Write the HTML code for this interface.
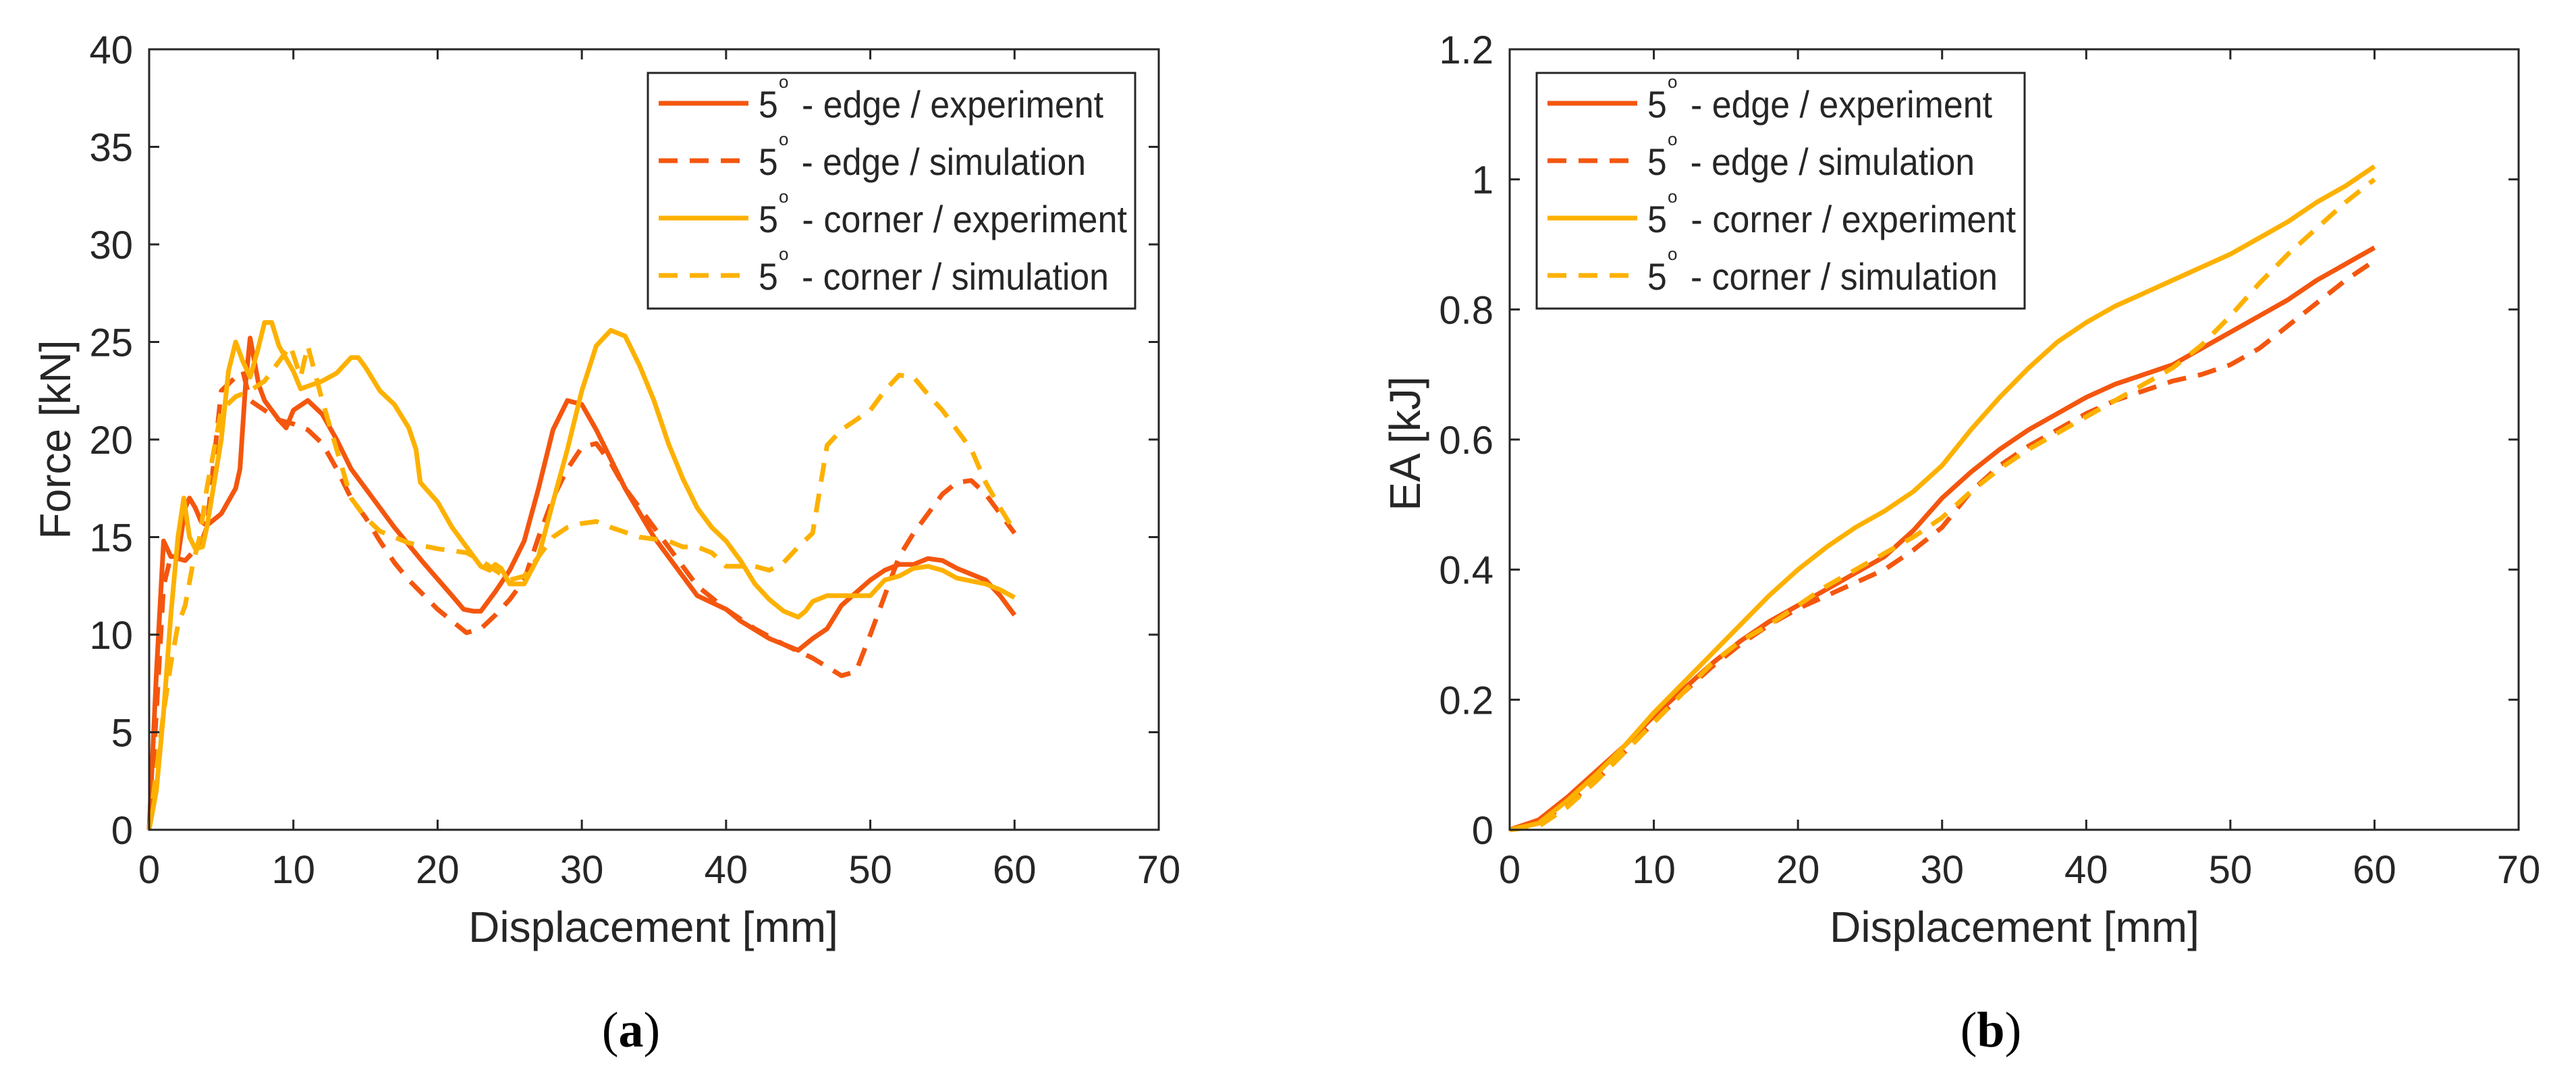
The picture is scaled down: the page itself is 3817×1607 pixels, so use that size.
<!DOCTYPE html>
<html><head><meta charset="utf-8"><style>
html,body{margin:0;padding:0;background:#fff;}
svg{display:block;font-family:"Liberation Sans",sans-serif;}
</style></head><body>
<svg id="chart" width="3817" height="1607" viewBox="0 0 3817 1607" xmlns="http://www.w3.org/2000/svg"></svg>
<script>
const NS="http://www.w3.org/2000/svg";
const xTicks=[0,10,20,30,40,50,60,70];
const forceTicks=[0,5,10,15,20,25,30,35,40];
const eaTicks=[0,0.2,0.4,0.6,0.8,1,1.2];
const eaTickLabels=["0","0.2","0.4","0.6","0.8","1","1.2"];
const seriesNames=["5° - edge / experiment","5° - edge / simulation","5° - corner / experiment","5° - corner / simulation"];
// Force panel (a)
const fEdgeExpX=[0,0.5,1,1.5,2,2.5,2.8,3.2,3.6,4,5,6,6.3,6.7,7,7.3,7.6,8,9,9.5,10,11,12,13,14,15,17,19,21,21.8,22.5,23,24,25,26,27,28,29,30,31,32,33,35,37,38,40,41,43,45,46,47,48,50,51,52,53,54,55,56,58,59,60];
const fEdgeExpY=[0,8,14.8,14,14,16.5,17,16.5,15.8,15.6,16.2,17.5,18.5,23,25.2,24,22.8,22,21,20.6,21.5,22,21.3,20,18.5,17.5,15.5,13.7,12,11.3,11.2,11.2,12.2,13.3,14.8,17.5,20.5,22,21.8,20.5,19,17.5,15,13,12,11.3,10.7,9.8,9.2,9.8,10.3,11.5,12.8,13.3,13.6,13.6,13.9,13.8,13.4,12.8,12,11];
const fEdgeSimX=[0,0.5,1,1.5,2.5,3,3.5,4,5,6,6.5,7,8,9,10,11,12,13,14,15,16,17,18,20,22,23,24,25,26,27,28,29,30,31,32,33,35,37,38,40,42,44,46,48,49,50,51,52,53,54,55,56,57,58,59,60];
const fEdgeSimY=[0,6,12.5,14,13.8,14.2,14.5,15.5,22.5,23.2,23.5,22,21.5,21,20.8,20.5,19.8,18.5,17,16,14.8,13.7,12.8,11.3,10.1,10.3,11,11.8,12.8,15,17,18.5,19.6,19.8,18.8,17.5,15.5,13.5,12.5,11.3,10.3,9.5,8.8,7.9,8.1,10,12,14,15.2,16.2,17.2,17.8,17.9,17.2,16.2,15.2];
const fCornerExpX=[0,0.5,1,1.5,2,2.4,2.8,3.2,3.7,4,5,5.5,6,6.5,7,7.5,8,8.5,9,10,10.5,12,13,14,14.5,15,16,17,18,18.5,18.8,20,21,22,23,23.6,24,24.4,25,25.5,26,27,28,29,30,31,32,33,34,35,36,37,38,39,40,41,42,43,44,45,45.5,46,47,48,49,50,51,52,53,54,55,56,58,59,60];
const fCornerExpY=[0,2,6,11,15,17,15,14.4,14.5,15.5,20,23.5,25,24,23.2,24.5,26,26,24.8,23.5,22.6,23,23.4,24.2,24.2,23.7,22.5,21.8,20.6,19.5,17.8,16.8,15.5,14.5,13.5,13.3,13.6,13.4,12.6,12.6,12.6,14,16.8,19.5,22.5,24.8,25.6,25.3,23.8,22,19.8,18,16.5,15.5,14.8,13.8,12.6,11.8,11.2,10.9,11.2,11.7,12,12,12,12,12.8,13,13.4,13.5,13.3,12.9,12.6,12.3,11.9];
const fCornerSimX=[0,0.5,1,1.5,2,2.5,3,3.5,4,4.5,5,6,7,8,9,9.8,10.5,11,12,13,14,15,16,17,18,20,22,23,24,25,26,27,28,29,30,31,32,34,36,37,38,39,40,41,42,43,44,45,46,47,48,50,51,52,53,54,55,56,57,58,59,60];
const fCornerSimY=[0,3,6,8.5,10.5,11.5,13.5,15,17.5,19.5,21.5,22.2,22.5,23,24,24.8,23.2,24.8,22,19.5,17,16,15.3,15,14.7,14.4,14.2,13.8,13.3,12.8,13,14,15,15.5,15.7,15.8,15.5,15,14.8,14.5,14.5,14.2,13.5,13.5,13.5,13.3,13.7,14.5,15.2,19.7,20.5,21.5,22.5,23.3,23.2,22.3,21.5,20.5,19.5,17.8,16.5,15.3];
// EA panel (b)
const eaX=[0,2,4,6,8,10,12,14,16,18,20,22,24,26,28,30,32,34,36,38,40,42,44,46,48,50,52,54,56,58,60];
const eaEdgeExp=[0,0.015,0.05,0.09,0.13,0.175,0.215,0.255,0.29,0.32,0.345,0.37,0.395,0.42,0.46,0.51,0.55,0.585,0.615,0.64,0.665,0.685,0.7,0.715,0.74,0.765,0.79,0.815,0.845,0.87,0.895];
const eaEdgeSim=[0,0.01,0.04,0.075,0.12,0.165,0.21,0.25,0.285,0.315,0.34,0.36,0.38,0.4,0.43,0.465,0.52,0.56,0.59,0.615,0.64,0.66,0.675,0.69,0.7,0.715,0.74,0.775,0.81,0.845,0.875];
const eaCornerExp=[0,0.01,0.045,0.085,0.13,0.18,0.225,0.27,0.315,0.36,0.4,0.435,0.465,0.49,0.52,0.56,0.615,0.665,0.71,0.75,0.78,0.805,0.825,0.845,0.865,0.885,0.91,0.935,0.965,0.99,1.02];
const eaCornerSim=[0,0.005,0.035,0.075,0.12,0.165,0.21,0.255,0.29,0.315,0.345,0.375,0.4,0.425,0.45,0.48,0.52,0.555,0.585,0.61,0.635,0.66,0.685,0.71,0.745,0.79,0.84,0.885,0.925,0.965,1.0];

const RED="#F4560E", YEL="#FDB100", AX="#262626";
const svg=document.getElementById('chart');
function mk(tag,attrs,parent){const e=document.createElementNS(NS,tag);for(const k in attrs)e.setAttribute(k,attrs[k]);(parent||svg).appendChild(e);return e;}

function panel(cfg){
  const g=mk('g',{});
  
  
  const L=cfg.left,R=cfg.right,T=73,B=1229;
  const sx=v=>L+(v-0)/70*(R-L);
  const sy=v=>B-(v/cfg.ymax)*(B-T);
  cfg.series.forEach((s,i)=>{
    const d=s.x.map((x,j)=>(j?'L':'M')+sx(x).toFixed(1)+','+sy(s.y[j]).toFixed(1)).join(' ');
    const p=mk('path',{d:d,fill:'none',stroke:s.color,'stroke-width':7,'stroke-linejoin':'round','stroke-linecap':'butt'},g);
    if(s.dash)p.setAttribute('stroke-dasharray','28,18');
    
    
  });
  const box=mk('rect',{x:L,y:T,width:R-L,height:B-T,fill:'none',stroke:AX,'stroke-width':3},g);
  
  
  xTicks.forEach(v=>{
    const x=sx(v);
    mk('line',{x1:x,y1:B,x2:x,y2:B-15,stroke:AX,'stroke-width':3},g);
    mk('line',{x1:x,y1:T,x2:x,y2:T+15,stroke:AX,'stroke-width':3},g);
    const t=mk('text',{x:x,y:1308,'font-size':58,'text-anchor':'middle',fill:AX},g);
    t.textContent=String(v);
    
    
  });
  cfg.yticks.forEach((v,i)=>{
    const y=sy(v);
    mk('line',{x1:L,y1:y,x2:L+15,y2:y,stroke:AX,'stroke-width':3},g);
    mk('line',{x1:R,y1:y,x2:R-15,y2:y,stroke:AX,'stroke-width':3},g);
    const t=mk('text',{x:L-24,y:y+21,'font-size':58,'text-anchor':'end',fill:AX},g);
    t.textContent=cfg.ylabels[i];
    
    
  });
  const xt=mk('text',{x:cfg.xtitleX,y:1395,'font-size':64,'text-anchor':'middle',fill:AX},g);
  xt.textContent='Displacement [mm]';
  
  
  const yt=mk('text',{x:0,y:0,'font-size':64,'text-anchor':'middle',fill:AX,transform:`translate(${cfg.ytitleX},${cfg.ytitleY}) rotate(-90)`},g);
  yt.textContent=cfg.ytitle;
  
  
  const lg=mk('g',{},g);
  
  
  mk('rect',{x:cfg.legX,y:108,width:cfg.legW,height:349,fill:'#fff',stroke:AX,'stroke-width':3},lg);
  const widths=[511,485,546,519];
  cfg.series.forEach((s,i)=>{
    const y=153+i*85;
    const e=mk('g',{},lg);
    
    
    const ln=mk('line',{x1:cfg.legX+16,y1:y,x2:cfg.legX+149,y2:y,stroke:s.color,'stroke-width':7},e);
    if(s.dash)ln.setAttribute('stroke-dasharray','28,18');
    const tx=cfg.legX+164;
    const t=mk('text',{x:tx,y:y+21,'font-size':56,fill:AX,textLength:widths[i],lengthAdjust:'spacingAndGlyphs'},e);
    t.textContent=seriesNames[i].replace('°','\u2009\u2009');
    const dg=mk('text',{x:tx+30,y:y-23,'font-size':26,fill:AX},e);
    dg.textContent='o';
  });
  const cap=mk('text',{x:cfg.capX,y:1550,'font-size':74,'text-anchor':'middle',fill:'#000','font-family':'Liberation Serif, serif'},g);
  cap.innerHTML='(<tspan font-weight="bold">'+cfg.cap+'</tspan>)';
  
  
}

panel({name:'force-chart',left:221,right:1717,ymax:40,yticks:forceTicks,ylabels:forceTicks.map(String),
  ytitle:'Force [kN]',ytitleX:104,ytitleY:651,xtitleX:968,legX:960,legW:722,capX:935,cap:'a',
  series:[{id:'edge-experiment-line',x:fEdgeExpX,y:fEdgeExpY,color:RED,dash:false},
          {id:'edge-simulation-line',x:fEdgeSimX,y:fEdgeSimY,color:RED,dash:true},
          {id:'corner-experiment-line',x:fCornerExpX,y:fCornerExpY,color:YEL,dash:false},
          {id:'corner-simulation-line',x:fCornerSimX,y:fCornerSimY,color:YEL,dash:true}]});
panel({name:'energy-absorption-chart',left:2237,right:3732,ymax:1.2,yticks:eaTicks,ylabels:eaTickLabels,
  ytitle:'EA [kJ]',ytitleX:2104,ytitleY:657,xtitleX:2985,legX:2277,legW:723,capX:2950,cap:'b',
  series:[{id:'edge-experiment-line',x:eaX,y:eaEdgeExp,color:RED,dash:false},
          {id:'edge-simulation-line',x:eaX,y:eaEdgeSim,color:RED,dash:true},
          {id:'corner-experiment-line',x:eaX,y:eaCornerExp,color:YEL,dash:false},
          {id:'corner-simulation-line',x:eaX,y:eaCornerSim,color:YEL,dash:true}]});
</script>
</body></html>
